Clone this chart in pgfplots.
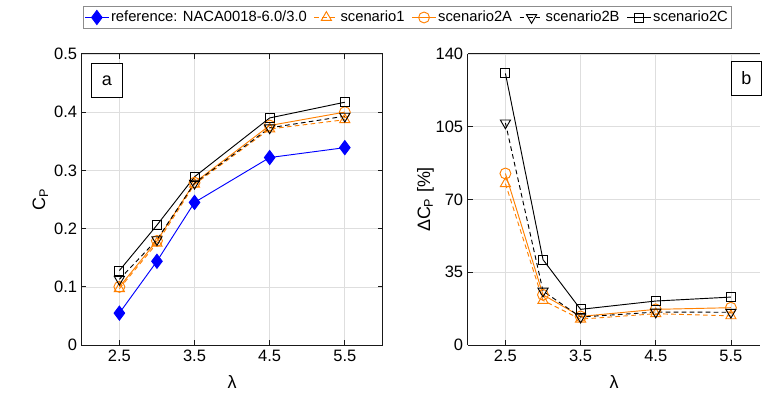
\documentclass[border=0pt]{standalone}
\usepackage{fontspec}
\setmainfont{Liberation Sans}
\usepackage{pgfplots}
\pgfplotsset{compat=1.18}

\definecolor{refblue}{RGB}{0,0,255}
\definecolor{scorange}{RGB}{255,128,0}

\tikzset{
  plabel/.style={draw=black, line width=0.6pt, fill=white, minimum width=23pt, minimum height=25.5pt, inner sep=0pt, font=\fontsize{13.5}{16}\selectfont},
}

\pgfplotsset{
  panel/.style={
    scale only axis, height=219pt,
    xmin=2, xtick={2.5,3.5,4.5,5.5},
    tick align=inside, major tick length=3.5pt,
    grid=major, major grid style={black!13, line width=0.5pt},
    axis line style={line width=0.6pt, black!90},
    every tick/.style={line width=0.6pt, black!90},
    ticklabel style={font=\fontsize{12.4}{14}\selectfont},
    /pgf/number format/assume math mode=true,
    /pgf/number format/fixed,
    label style={font=\fontsize{13.5}{16}\selectfont},
    xlabel={λ},
    xlabel style={at={(axis description cs:0.5,-0.127)}, anchor=center},
    clip=false,
  },
  sref/.style={color=refblue, line width=0.7pt, mark=diamond*, mark size=5.3pt, mark options={solid}},
  sone/.style={color=scorange, line width=0.7pt, dash pattern=on 3.5pt off 2.5pt, mark=triangle, mark size=4.4pt, mark options={solid}},
  stwoA/.style={color=scorange, line width=0.7pt, mark=o, mark size=4.1pt, mark options={solid}},
  stwoB/.style={color=black, line width=0.7pt, dash pattern=on 3.5pt off 2.5pt, mark=triangle, mark size=4.4pt, mark options={solid, rotate=180}},
  stwoC/.style={color=black, line width=0.7pt, mark=square, mark size=3.4pt, mark options={solid}},
}

% power coefficient C_P against tip speed ratio
\pgfplotstableread{
lam   ref    s1     s2A    s2B    s2C
2.5   0.055  0.097  0.100  0.113  0.128
3.0   0.144  0.175  0.179  0.181  0.206
3.5   0.245  0.276  0.279  0.278  0.289
4.5   0.322  0.371  0.377  0.373  0.390
5.5   0.339  0.387  0.400  0.393  0.417
}\cpdata

% relative gain Delta C_P [%] over the reference profile
\pgfplotstableread{
lam   s1     s2A    s2B    s2C
2.5   77.6   82.5   106.8  130.6
3.0   21.5   24.2   26.0   41.1
3.5   12.5   13.8   13.5   17.2
4.5   15.1   17.2   15.9   21.2
5.5   14.1   18.0   15.8   23.1
}\dcpdata

\begin{document}
\begin{tikzpicture}
% page frame
\path (0,0) rectangle (571.5pt,301.5pt);

\begin{axis}[panel,
  at={(61.5pt,42pt)}, anchor=south west,
  width=226pt, xmax=6,
  ymin=0, ymax=0.5, ytick={0,0.1,...,0.5},
  ylabel={C\textsubscript{P}},
  ylabel style={at={(axis description cs:-0.138,0.5)}, anchor=center},
  legend columns=5,
  legend cell align=left,
  legend image code/.code={\draw[mark repeat=2, mark phase=2, #1] plot coordinates {(0pt,0pt) (9pt,0pt) (18pt,0pt)};},
  legend style={at={(axis description cs:0.003,1.164)}, anchor=north west,
    draw=black!45, line width=0.6pt, fill=white,
    font=\fontsize{11.1}{13}\selectfont,
    inner xsep=1pt, inner ysep=2.5pt,
    nodes={inner xsep=1.3pt, inner ysep=1pt},
    /tikz/every even column/.append style={column sep=4pt}},
]
\addplot[sref]  table[x=lam, y=ref] {\cpdata};
\addlegendentry{reference: NACA0018-6.0/3.0}
\addplot[sone]  table[x=lam, y=s1]  {\cpdata};
\addlegendentry{scenario1}
\addplot[stwoA] table[x=lam, y=s2A] {\cpdata};
\addlegendentry{scenario2A}
\addplot[stwoB] table[x=lam, y=s2B] {\cpdata};
\addlegendentry{scenario2B}
\addplot[stwoC] table[x=lam, y=s2C] {\cpdata};
\addlegendentry{scenario2C}
\node[plabel] at (rel axis cs:0.083,0.908) {a};
\end{axis}

% right panel ends at the page edge, so its frame is open on the right
\begin{axis}[panel,
  at={(351.75pt,42pt)}, anchor=south west,
  width=219.75pt, xmax=5.889,
  axis x line*=bottom, axis y line*=left,
  x axis line style={-}, y axis line style={-},
  ymin=0, ymax=140, ytick={0,35,70,105,140},
  ylabel={ΔC\textsubscript{P} [\%]},
  ylabel style={at={(axis description cs:-0.145,0.5)}, anchor=center},
]
\addplot[sone]  table[x=lam, y=s1]  {\dcpdata};
\addplot[stwoA] table[x=lam, y=s2A] {\dcpdata};
\addplot[stwoB] table[x=lam, y=s2B] {\dcpdata};
\addplot[stwoC] table[x=lam, y=s2C] {\dcpdata};
\draw[line width=0.6pt, black!90] (rel axis cs:0,1) -- (rel axis cs:1,1);
\node[plabel] at (axis cs:5.705,128.2) {b};
\end{axis}

\end{tikzpicture}
\end{document}
